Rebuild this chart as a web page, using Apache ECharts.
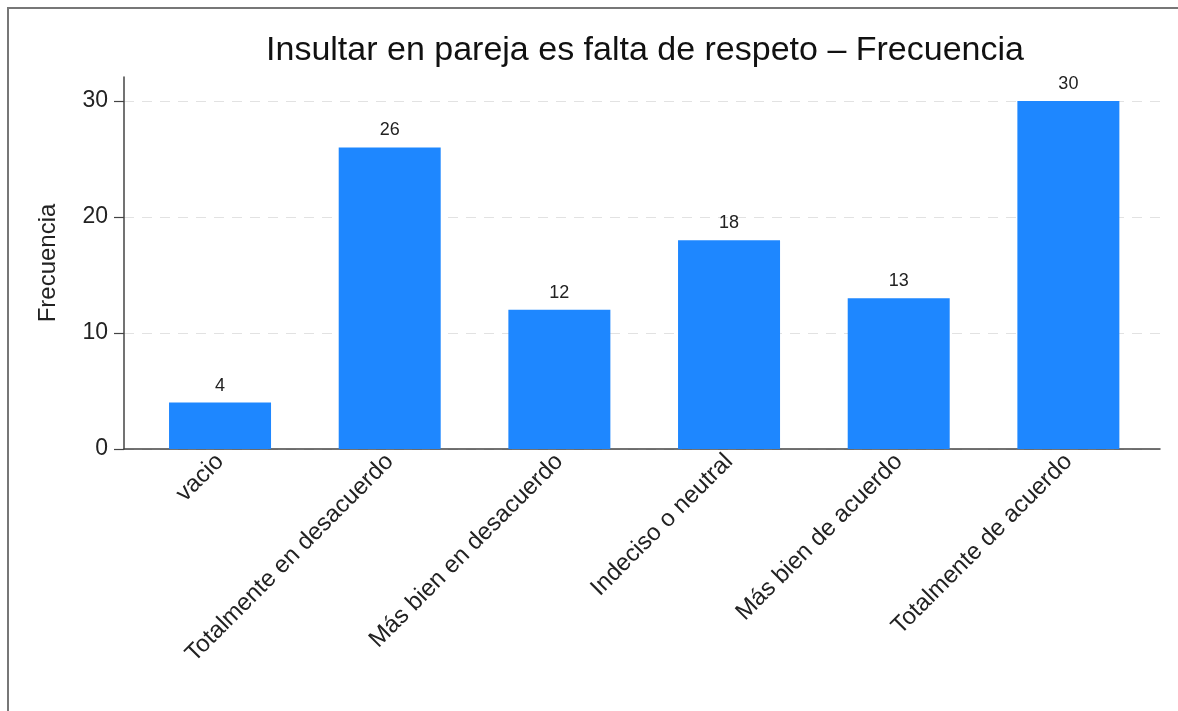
<!DOCTYPE html>
<html lang="es">
<head>
    <meta charset="UTF-8">
    <title>Insultar en pareja es falta de respeto</title>
    <style>
        html, body { margin: 0; padding: 0; background: #fff; }
    </style>
</head>
<body>
<div id="chart" style="width:1178px;height:711px"></div>
<script src="https://cdn.jsdelivr.net/npm/echarts@6/dist/echarts.min.js"></script>
<script type="text/javascript">

    var categories = ['vacio', 'Totalmente en desacuerdo', 'Más bien en desacuerdo',
        'Indeciso o neutral', 'Más bien de acuerdo', 'Totalmente de acuerdo'];
    var frecuencia = [4, 26, 12, 18, 13, 30];
    var yTicks = [0, 10, 20, 30];

    var font = 'Liberation Sans, Arial, sans-serif';

    var barData = [];
    var xPos = [];
    for (var i = 0; i < categories.length; i++) {
        barData.push([i, frecuencia[i]]);
        xPos.push(i);
    }

    var myChart = echarts.init(document.getElementById('chart'));
    var option = {
        animation: false,
        backgroundColor: '#fff',
        textStyle: { fontFamily: font },
        title: {
            text: 'Insultar en pareja es falta de respeto – Frecuencia',
            left: 645,
            textAlign: 'center',
            top: 34,
            padding: 0,
            textStyle: { fontFamily: font, fontSize: 34, fontWeight: 'normal', color: '#111' }
        },
        graphic: [{
            type: 'rect',
            shape: { x: 8, y: 8, width: 1300, height: 1000 },
            style: { fill: 'none', stroke: '#777', lineWidth: 2 },
            silent: true
        }],
        grid: { left: 124, right: 18, top: 77, bottom: 262 },
        xAxis: {
            type: 'value',
            min: -0.566,
            max: 5.54,
            axisLine: { show: true, onZero: false, lineStyle: { color: '#444', width: 1.5 } },
            axisTick: { show: false },
            splitLine: { show: false },
            axisLabel: {
                customValues: xPos,
                rotate: 45,
                margin: 9,
                fontSize: 24,
                color: '#222',
                fontFamily: font,
                formatter: function (v) { return categories[v]; }
            }
        },
        yAxis: {
            type: 'value',
            min: 0,
            max: 32.07,
            interval: 10,
            name: 'Frecuencia',
            nameLocation: 'middle',
            nameGap: 64,
            nameTextStyle: { fontSize: 24, color: '#222', fontFamily: font },
            axisLine: { show: true, onZero: false, lineStyle: { color: '#444', width: 1.5 } },
            axisTick: { show: true, length: 10, customValues: yTicks, lineStyle: { color: '#444', width: 1.2 } },
            axisLabel: { customValues: yTicks, margin: 16, fontSize: 23, color: '#222', fontFamily: font },
            splitLine: {
                show: true,
                lineStyle: { color: '#e2e2e2', type: [10, 8], width: 1 }
            }
        },
        series: [{
            name: 'Frecuencia',
            type: 'bar',
            barWidth: 102,
            data: barData,
            itemStyle: { color: '#1e87ff' },
            label: {
                show: true,
                position: 'top',
                distance: 8,
                fontSize: 18,
                color: '#222',
                fontFamily: font,
                formatter: function (p) { return p.value[1]; }
            }
        }]
    };
    myChart.setOption(option);
</script>
</body>
</html>
